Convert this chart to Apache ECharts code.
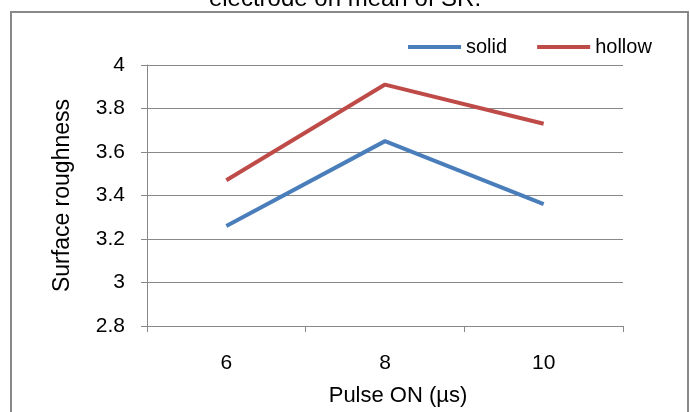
<!DOCTYPE html>
<html>
<head>
<meta charset="utf-8">
<script src="https://cdn.jsdelivr.net/npm/echarts@6/dist/echarts.min.js"></script>
<style>
  html, body { margin: 0; padding: 0; background: #fff; }
  #chart { width: 690px; height: 412px; }
</style>
</head>
<body>
<div id="chart"></div>
<script>
// Pulse ON times (µs) and mean surface roughness for each electrode type
const pulseOn = ['6', '8', '10'];
const solidSR = [3.26, 3.65, 3.36];
const hollowSR = [3.47, 3.91, 3.73];
const yTicks = { min: 2.8, max: 4, step: 0.2 };

const FONT = 'Liberation Sans, Arial, sans-serif';
const GRAY = '#888888';

const chart = echarts.init(document.getElementById('chart'), null, { renderer: 'canvas' });
chart.setOption({
  animation: false,
  backgroundColor: '#ffffff',
  textStyle: { fontFamily: FONT, color: '#000' },
  graphic: [
    {
      type: 'rect',
      shape: { x: 11, y: 12, width: 677, height: 420 },
      style: { fill: 'none', stroke: GRAY, lineWidth: 2 },
      silent: true
    },
    {
      type: 'text',
      x: 345,
      y: 11,
      style: {
        text: 'electrode on mean of SR.',
        font: '24px ' + FONT,
        fill: '#000',
        align: 'center',
        verticalAlign: 'bottom'
      }
    }
  ],
  legend: {
    top: 32,
    left: 403,
    icon: 'rect',
    itemWidth: 53,
    itemHeight: 4,
    itemGap: 30,
    textStyle: { fontSize: 20, fontFamily: FONT, color: '#000' },
    data: ['solid', 'hollow']
  },
  grid: { left: 147, right: 67, top: 65, bottom: 86 },
  xAxis: {
    type: 'category',
    data: pulseOn,
    boundaryGap: true,
    name: 'Pulse ON (µs)',
    nameLocation: 'middle',
    nameGap: 59,
    nameTextStyle: { fontSize: 22, fontFamily: FONT, color: '#000', padding: [0, 0, 0, 26] },
    axisLine: { lineStyle: { color: GRAY, width: 1 } },
    axisTick: { show: true, length: 6, lineStyle: { color: GRAY } },
    axisLabel: { fontSize: 21, fontFamily: FONT, color: '#000', margin: 27 },
    splitLine: { show: false }
  },
  yAxis: {
    type: 'value',
    min: yTicks.min,
    max: yTicks.max,
    interval: yTicks.step,
    name: 'Surface roughness',
    nameLocation: 'middle',
    nameGap: 73,
    nameTextStyle: { fontSize: 23, fontFamily: FONT, color: '#000' },
    axisLine: { show: true, lineStyle: { color: GRAY, width: 1 } },
    axisTick: { show: true, length: 6, lineStyle: { color: GRAY } },
    axisLabel: {
      fontSize: 21, fontFamily: FONT, color: '#000', margin: 22,
      formatter: v => String(parseFloat(v.toFixed(1)))
    },
    splitLine: { show: true, lineStyle: { color: GRAY, width: 1 } }
  },
  series: [
    {
      name: 'solid',
      type: 'line',
      data: solidSR,
      symbol: 'none',
      lineStyle: { color: '#4a7ebb', width: 4 },
      itemStyle: { color: '#4a7ebb' }
    },
    {
      name: 'hollow',
      type: 'line',
      data: hollowSR,
      symbol: 'none',
      lineStyle: { color: '#be4b48', width: 4 },
      itemStyle: { color: '#be4b48' }
    }
  ]
});
</script>
</body>
</html>
